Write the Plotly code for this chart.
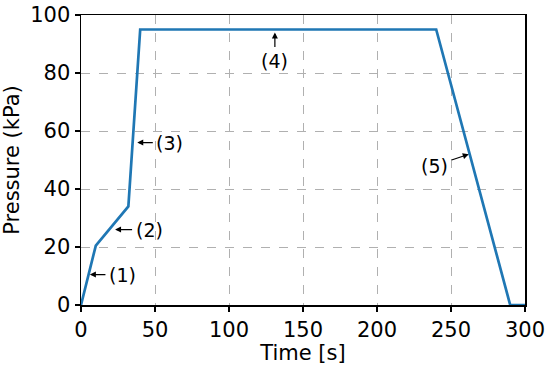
import plotly.graph_objects as go

time_s = [0, 10, 32, 40, 240, 290, 300]
pressure_kpa = [0, 20.5, 34, 95, 95, 0, 0]

ann_labels = ["(1)", "(2)", "(3)", "(4)", "(5)"]
ann_head_x = [6, 23, 38, 131, 262]
ann_head_y = [10.5, 26, 56, 94, 52]
ann_text_x = [28, 46, 60, 131, 239]
ann_text_y = [10.5, 26, 56, 84, 48]

FONT = "DejaVu Sans"

fig = go.Figure()
fig.add_trace(go.Scatter(x=time_s, y=pressure_kpa, mode="lines",
                         line=dict(color="#1f77b4", width=2.7), showlegend=False))

for lab, hx, hy, tx, ty in zip(ann_labels, ann_head_x, ann_head_y, ann_text_x, ann_text_y):
    fig.add_annotation(x=hx, y=hy, ax=tx, ay=ty, axref="x", ayref="y", xref="x", yref="y",
                       text=lab, showarrow=True, arrowhead=2, arrowsize=1, arrowwidth=1.2,
                       arrowcolor="black", font=dict(size=19, color="black", family=FONT),
                       standoff=0, startstandoff=2)

axis_common = dict(showline=True, linecolor="black", linewidth=1.5, mirror=True,
                   ticks="outside", ticklen=5, tickwidth=1.2, tickcolor="black",
                   showgrid=True, gridcolor="#b0b0b0", griddash="dash", gridwidth=1,
                   zeroline=False, automargin=False, ticklabeloverflow="allow",
                   tickfont=dict(size=21, color="black", family=FONT))

fig.update_xaxes(range=[0, 300], tickvals=[0, 50, 100, 150, 200, 250, 300],
                 title=dict(text="Time [s]", font=dict(size=21, color="black", family=FONT), standoff=0),
                 **axis_common)
fig.update_yaxes(range=[0, 100], tickvals=[0, 20, 40, 60, 80, 100],
                 title=dict(text="Pressure (kPa)", font=dict(size=21, color="black", family=FONT), standoff=11),
                 **axis_common)

fig.update_layout(width=550, height=365, margin=dict(l=81, r=25, t=15, b=60),
                  plot_bgcolor="white", paper_bgcolor="white", hovermode=False)

fig.write_html("out.html", config={"displayModeBar": False, "staticPlot": True},
               post_script="document.body.style.margin='0';document.body.style.padding='0';document.body.style.overflow='hidden';")
